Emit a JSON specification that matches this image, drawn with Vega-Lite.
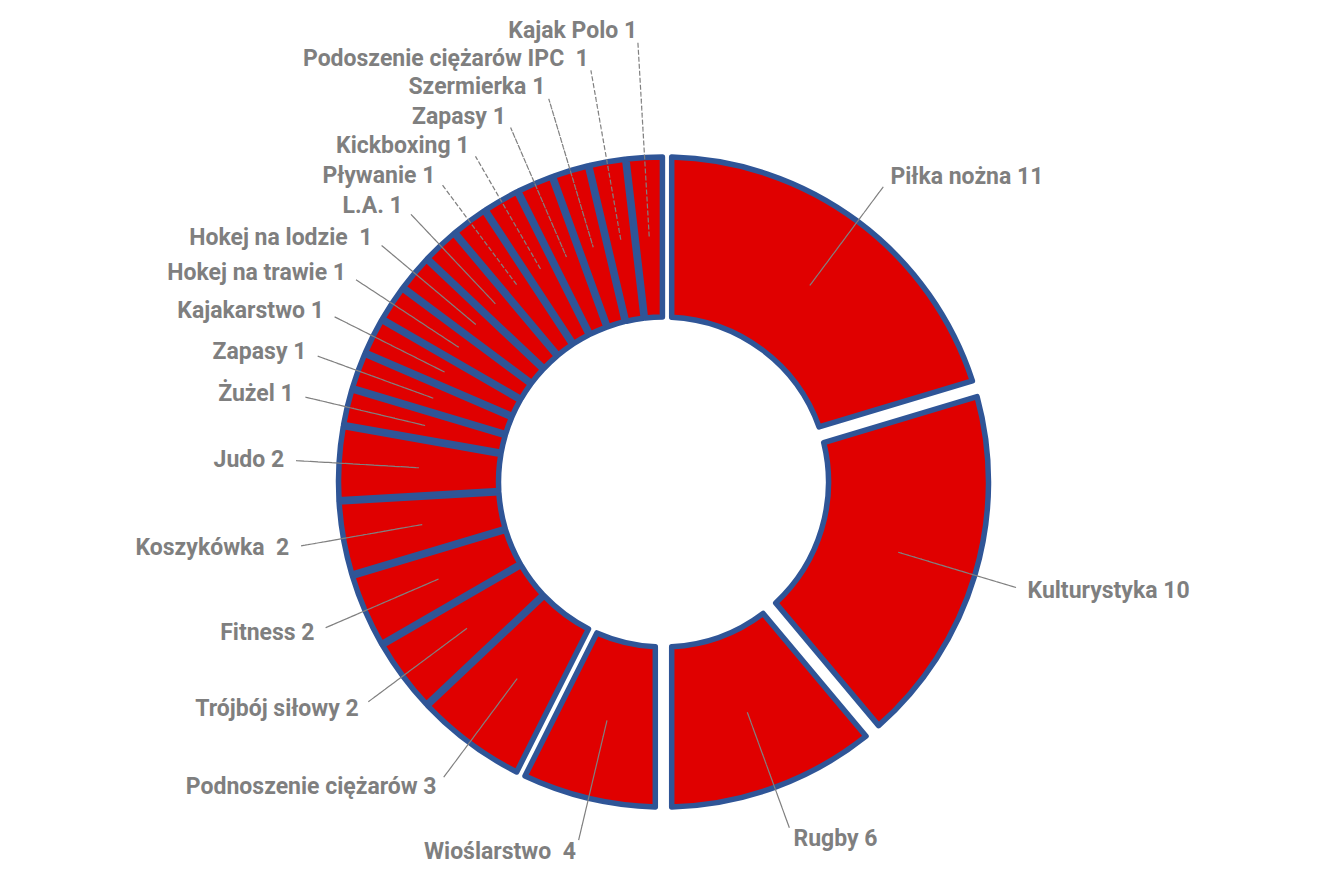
{
  "$schema": "https://vega.github.io/schema/vega-lite/v6.json",
  "width": 1327,
  "height": 878,
  "autosize": {"type": "fit", "contains": "padding"},
  "padding": {"top": 62, "left": 0, "right": 0, "bottom": 0},
  "background": "white",
  "view": {"stroke": null},
  "data": {
    "values": [
      {"idx": 1, "sport": "Piłka nożna", "value": 11, "label": "Piłka nożna 11"},
      {"idx": 2, "sport": "Kulturystyka", "value": 10, "label": "Kulturystyka 10"},
      {"idx": 3, "sport": "Rugby", "value": 6, "label": "Rugby 6"},
      {"idx": 4, "sport": "Wioślarstwo", "value": 4, "label": "Wioślarstwo \u00a04"},
      {"idx": 5, "sport": "Podnoszenie ciężarów", "value": 3, "label": "Podnoszenie ciężarów 3"},
      {"idx": 6, "sport": "Trójbój siłowy", "value": 2, "label": "Trójbój siłowy 2"},
      {"idx": 7, "sport": "Fitness", "value": 2, "label": "Fitness 2"},
      {"idx": 8, "sport": "Koszykówka", "value": 2, "label": "Koszykówka \u00a02"},
      {"idx": 9, "sport": "Judo", "value": 2, "label": "Judo 2"},
      {"idx": 10, "sport": "Żużel", "value": 1, "label": "Żużel 1"},
      {"idx": 11, "sport": "Zapasy", "value": 1, "label": "Zapasy 1"},
      {"idx": 12, "sport": "Kajakarstwo", "value": 1, "label": "Kajakarstwo 1"},
      {"idx": 13, "sport": "Hokej na trawie", "value": 1, "label": "Hokej na trawie 1"},
      {"idx": 14, "sport": "Hokej na lodzie", "value": 1, "label": "Hokej na lodzie \u00a01"},
      {"idx": 15, "sport": "L.A.", "value": 1, "label": "L.A. 1"},
      {"idx": 16, "sport": "Pływanie", "value": 1, "label": "Pływanie 1"},
      {"idx": 17, "sport": "Kickboxing", "value": 1, "label": "Kickboxing 1"},
      {"idx": 18, "sport": "Zapasy", "value": 1, "label": "Zapasy 1"},
      {"idx": 19, "sport": "Szermierka", "value": 1, "label": "Szermierka 1"},
      {"idx": 20, "sport": "Podoszenie ciężarów IPC", "value": 1, "label": "Podoszenie ciężarów IPC \u00a01"},
      {"idx": 21, "sport": "Kajak Polo", "value": 1, "label": "Kajak Polo 1"}
    ]
  },
  "encoding": {
    "theta": {"field": "value", "type": "quantitative", "stack": true},
    "order": {"field": "idx", "type": "quantitative", "sort": "ascending"},
    "detail": {"field": "idx", "type": "nominal"}
  },
  "layer": [
    {
      "mark": {
        "type": "arc",
        "innerRadius": 165,
        "outerRadius": 325,
        "fill": "#E00000",
        "stroke": "#2F5597",
        "strokeWidth": 5.5,
        "strokeJoin": "round",
        "padAngle": {"expr": "datum.value >= 4 ? 0.045 : 0.006"}
      }
    },
    {
      "mark": {
        "type": "arc",
        "innerRadius": 245,
        "outerRadius": {"expr": "368 + 2 * pow(max(0, (datum.value_start + datum.value_end) / 2 - 47.5), 2)"},
        "padAngle": 3,
        "fill": null,
        "stroke": "#808080",
        "strokeWidth": 1.2,
        "strokeDash": [4, 3]
      }
    },
    {
      "mark": {
        "type": "text",
        "radius": {"expr": "380 + 2 * pow(max(0, (datum.value_start + datum.value_end) / 2 - 47.5), 2)"},
        "align": {"expr": "(datum.value_start + datum.value_end) / 2 < 27 ? 'left' : 'right'"},
        "baseline": "middle",
        "font": "Roboto",
        "fontWeight": "bold",
        "fontSize": 23,
        "fill": "#7F7F7F"
      },
      "encoding": {
        "text": {"field": "label", "type": "nominal"}
      }
    }
  ]
}
